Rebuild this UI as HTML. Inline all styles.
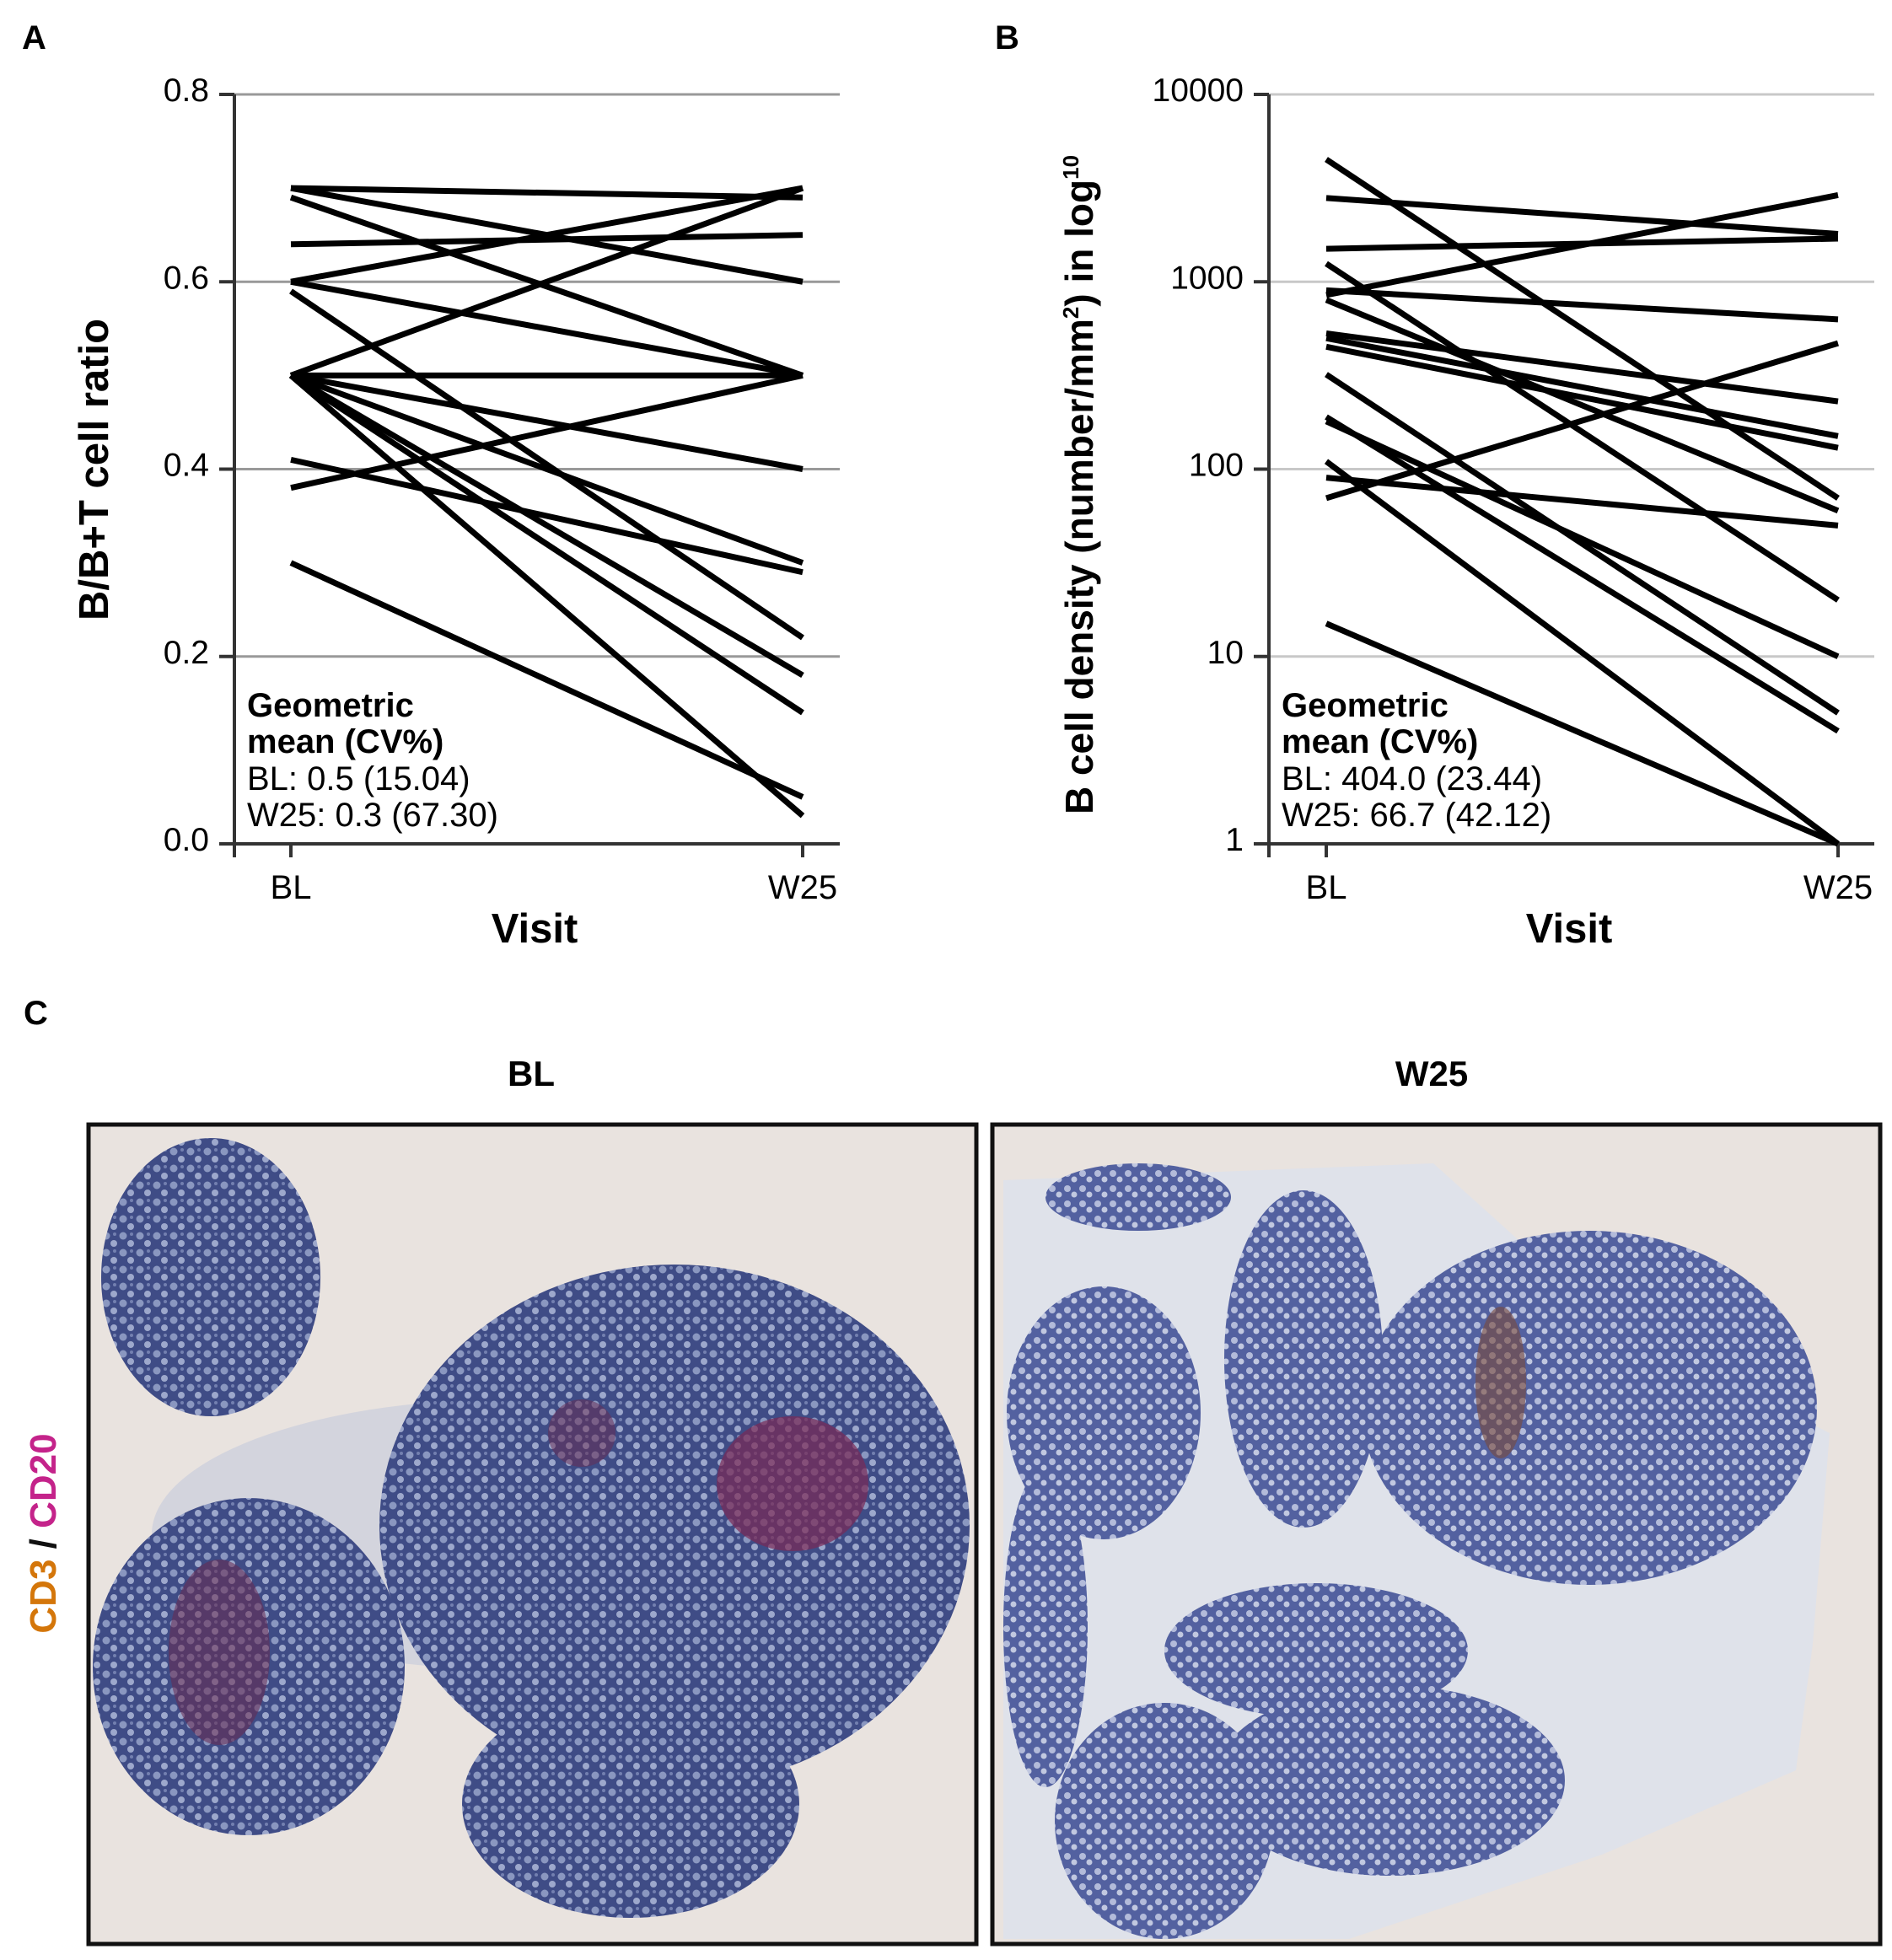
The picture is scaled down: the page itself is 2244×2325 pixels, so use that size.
<!DOCTYPE html>
<html><head><meta charset="utf-8"><style>
html,body{margin:0;padding:0;background:#fff;}
svg{display:block;font-family:"Liberation Sans",Arial,sans-serif;}
</style></head><body>
<svg id="fig" width="2244" height="2325" viewBox="0 0 2244 2325">
<defs>
<pattern id="tissue" width="20" height="20" patternUnits="userSpaceOnUse">
<rect width="20" height="20" fill="#3f4c86"/>
<circle cx="6" cy="6" r="4.5" fill="#8a97c0"/>
<circle cx="15" cy="15" r="4" fill="#9da8cc"/>
<circle cx="16" cy="4" r="2" fill="#7380b0"/>
</pattern>
<pattern id="tissue2" width="18" height="18" patternUnits="userSpaceOnUse">
<rect width="18" height="18" fill="#5361a0"/>
<circle cx="6" cy="6" r="4" fill="#b3bbda"/>
<circle cx="14" cy="13" r="3.5" fill="#c1c8e0"/>
</pattern>
</defs>
<g id="panelA"></g>
<g id="panelB"></g>

<g>
<text x="28" y="1215" font-size="40" font-weight="bold">C</text>
<text x="630" y="1288" font-size="42" font-weight="bold" text-anchor="middle">BL</text>
<text x="1698" y="1288" font-size="42" font-weight="bold" text-anchor="middle">W25</text>
<text transform="translate(66,1819) rotate(-90)" font-size="44" font-weight="bold" text-anchor="middle"><tspan fill="#d4760a">CD3</tspan><tspan fill="#111"> / </tspan><tspan fill="#c4238a">CD20</tspan></text>

<g>
<rect x="105" y="1334" width="1053" height="972" fill="#e9e3df"/>
<ellipse cx="600" cy="1820" rx="420" ry="160" fill="#cdd0dc" opacity="0.8"/>
<ellipse cx="250" cy="1515" rx="130" ry="165" fill="url(#tissue)"/>
<ellipse cx="800" cy="1810" rx="350" ry="310" fill="url(#tissue)"/>
<ellipse cx="295" cy="1977" rx="185" ry="200" fill="url(#tissue)"/>
<ellipse cx="748" cy="2140" rx="200" ry="135" fill="url(#tissue)"/>
<ellipse cx="940" cy="1760" rx="90" ry="80" fill="#7a2a55" opacity="0.7"/>
<ellipse cx="260" cy="1960" rx="60" ry="110" fill="#6a2a50" opacity="0.55"/>
<ellipse cx="690" cy="1700" rx="40" ry="40" fill="#6a2a50" opacity="0.5"/>
<rect x="105" y="1334" width="1053" height="972" fill="none" stroke="#111" stroke-width="5"/>
</g>
<g>
<rect x="1177" y="1334" width="1053" height="972" fill="#e9e3df"/>
<path d="M1190 1400 L1700 1380 L1900 1560 L2170 1700 L2150 1950 L2130 2100 L1900 2200 L1600 2300 L1190 2300 Z" fill="#dfe2ea"/>
<ellipse cx="1309" cy="1676" rx="115" ry="150" fill="url(#tissue2)"/>
<ellipse cx="1546" cy="1612" rx="94" ry="200" fill="url(#tissue2)"/>
<ellipse cx="1885" cy="1670" rx="270" ry="210" fill="url(#tissue2)"/>
<ellipse cx="1561" cy="1958" rx="180" ry="80" fill="url(#tissue2)"/>
<ellipse cx="1648" cy="2112" rx="208" ry="113" fill="url(#tissue2)"/>
<ellipse cx="1381" cy="2160" rx="130" ry="140" fill="url(#tissue2)"/>
<ellipse cx="1240" cy="1930" rx="50" ry="190" fill="url(#tissue2)"/>
<ellipse cx="1350" cy="1420" rx="110" ry="40" fill="url(#tissue2)"/>
<ellipse cx="1780" cy="1640" rx="30" ry="90" fill="#7a4a3a" opacity="0.6"/>
<rect x="1177" y="1334" width="1053" height="972" fill="none" stroke="#111" stroke-width="5"/>
</g>
</g>
</svg>
<script>
const categories = ["BL", "W25"];
const ratioBL  = [0.70,0.70,0.69,0.64,0.60,0.60,0.59,0.50,0.50,0.50,0.50,0.50,0.50,0.50,0.41,0.38,0.30];
const ratioW25 = [0.69,0.60,0.50,0.65,0.70,0.50,0.22,0.70,0.50,0.40,0.30,0.18,0.14,0.03,0.29,0.50,0.05];
const ratioTicks = [0.0,0.2,0.4,0.6,0.8];
const ratioTickLabels = ["0.0","0.2","0.4","0.6","0.8"];
const densBL  = [4500,2800,1500,1250,850,900,800,530,500,450,320,190,180,110,90,70,15];
const densW25 = [70,1800,1700,20,2900,630,60,230,150,130,5,4,10,1,50,470,1];
const densTicks = [1,10,100,1000,10000];
const densTickLabels = ["1","10","100","1000","10000"];
const annA = ["BL: 0.5 (15.04)","W25: 0.3 (67.30)"];
const annB = ["BL: 404.0 (23.44)","W25: 66.7 (42.12)"];

const NS = "http://www.w3.org/2000/svg";
function mk(parent, tag, attrs, txt){
  const e = document.createElementNS(NS, tag);
  for (const k in attrs) e.setAttribute(k, attrs[k]);
  if (txt !== undefined) e.textContent = txt;
  parent.appendChild(e);
  return e;
}
const Y0 = 1001, Y1 = 112;

function drawPanel(g, o){
  const yScale = o.yScale;
  const xScale = i => i === 0 ? o.xBL : o.xBL + 607;
  let t = mk(g,'text',{x:o.labelX,y:58,'font-size':40,'font-weight':'bold'},o.letter);
  
  
  o.ticks.forEach((v,i)=>{
    const y = yScale(v);
    if (i>0){
      const gl = mk(g,'line',{x1:o.axisX,x2:o.axisX+718,y1:y,y2:y,stroke:o.gridColor,'stroke-width':3});
      
      
    }
    const tk = mk(g,'line',{x1:o.axisX-18,x2:o.axisX,y1:y,y2:y,stroke:'#333','stroke-width':4});
    
    
    const tl = mk(g,'text',{x:o.axisX-30,y:y+8,'font-size':39,'text-anchor':'end'},o.tickLabels[i]);
    
    
  });
  const ax = mk(g,'line',{x1:o.axisX,x2:o.axisX,y1:Y1,y2:1017,stroke:'#333','stroke-width':4});
  
  
  const xa = mk(g,'line',{x1:o.axisX,x2:o.axisX+718,y1:Y0,y2:Y0,stroke:'#333','stroke-width':4});
  
  
  categories.forEach((c,i)=>{
    const x = xScale(i);
    const tk = mk(g,'line',{x1:x,x2:x,y1:Y0,y2:1017,stroke:'#333','stroke-width':4});
    
    
    const tl = mk(g,'text',{x:x,y:1066,'font-size':40,'text-anchor':'middle'},c);
    
    
  });
  const xt = mk(g,'text',{x:o.axisX+356,y:1118,'font-size':49,'font-weight':'bold','text-anchor':'middle'},'Visit');
  
  
  const yt = mk(g,'text',{transform:`translate(${o.titleX},${o.titleY}) rotate(-90)`,'font-size':o.titleSize,'font-weight':'bold','text-anchor':'middle'});
  
  
  yt.innerHTML = o.title;
  o.bl.forEach((v,i)=>{
    const ln = mk(g,'line',{x1:xScale(0),y1:yScale(v),x2:xScale(1),y2:yScale(o.w25[i]),stroke:'#000','stroke-width':7,'stroke-linecap':'butt'});
    
    
  });
  const an = mk(g,'text',{x:o.axisX+15,'font-size':40});
  
  
  mk(an,'tspan',{x:o.axisX+15,y:850,'font-weight':'bold'},'Geometric');
  mk(an,'tspan',{x:o.axisX+15,y:893,'font-weight':'bold'},'mean (CV%)');
  mk(an,'tspan',{x:o.axisX+15,y:937},o.ann[0]);
  mk(an,'tspan',{x:o.axisX+15,y:980},o.ann[1]);
}

drawPanel(document.getElementById('panelA'),{
  letter:'A', labelX:26, axisX:278, xBL:345, gridColor:'#999',
  yScale: v => Y0 - (v/0.8)*(Y0-Y1),
  ticks: ratioTicks, tickLabels: ratioTickLabels,
  bl: ratioBL, w25: ratioW25, ann: annA, titleX:128, titleY:557, titleSize:49,
  title:'B/B+T cell ratio'
});
drawPanel(document.getElementById('panelB'),{
  letter:'B', labelX:1180, axisX:1505, xBL:1573, gridColor:'#c8c8c8',
  yScale: v => Y0 - (Math.log10(v)/4)*(Y0-Y1),
  ticks: densTicks, tickLabels: densTickLabels,
  bl: densBL, w25: densW25, ann: annB, titleX:1296, titleY:575, titleSize:46,
  title:'B cell density (number/mm<tspan font-size="26" dy="-17">2</tspan><tspan dy="17">) in log</tspan><tspan font-size="26" dy="-17">10</tspan>'
});
</script>
</body></html>
